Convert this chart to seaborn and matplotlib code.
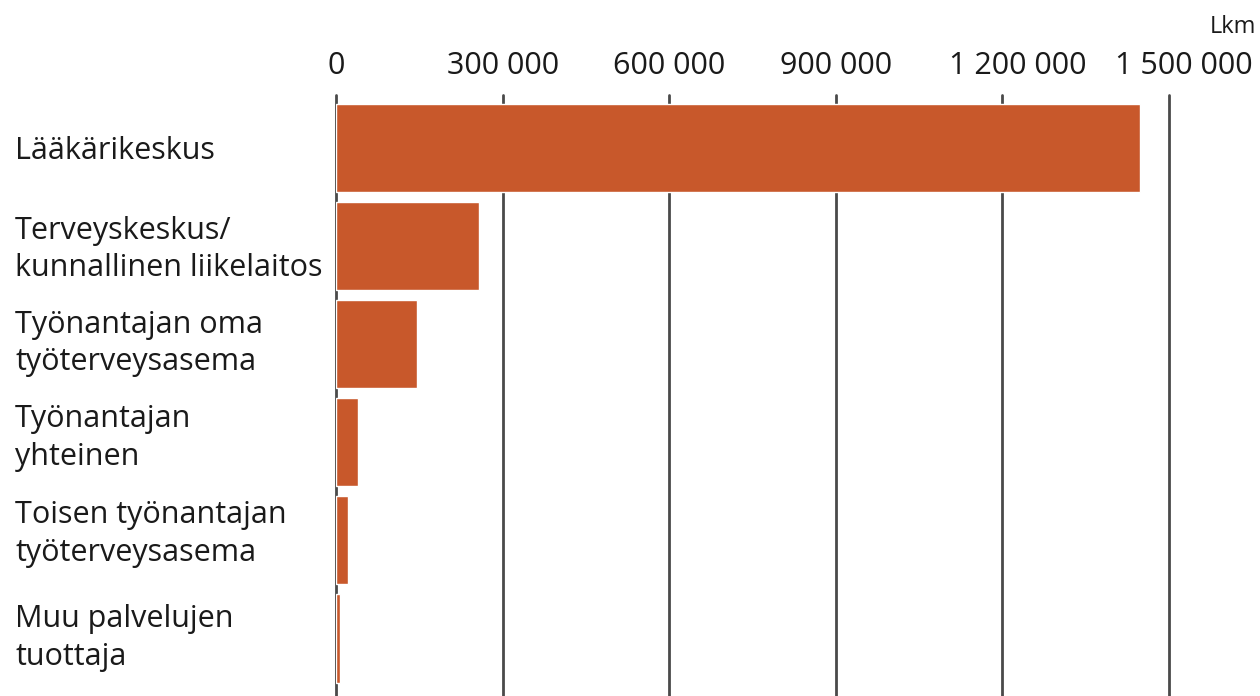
import matplotlib
matplotlib.use("Agg")
import matplotlib.pyplot as plt
import matplotlib.ticker as mticker
import matplotlib.transforms as mtransforms
import seaborn as sns
import pandas as pd

# Service providers and visit counts (lkm)
categories = [
    "Lääkärikeskus",
    "Terveyskeskus/\nkunnallinen liikelaitos",
    "Työnantajan oma\ntyöterveysasema",
    "Työnantajan\nyhteinen",
    "Toisen työnantajan\ntyöterveysasema",
    "Muu palvelujen\ntuottaja",
]
counts = [1447000, 257000, 146000, 39000, 22000, 7000]
x_ticks = [0, 300000, 600000, 900000, 1200000, 1500000]

sns.set_theme(style="white")
plt.rcParams["font.family"] = ["Open Sans", "DejaVu Sans"]

df = pd.DataFrame({"provider": categories, "count": counts})

fig = plt.figure(figsize=(12.6, 6.96), dpi=100)
ax = fig.add_axes([336 / 1260, 0.0, (1169 - 336) / 1260, 1 - 95 / 696])

sns.barplot(data=df, y="provider", x="count", orient="h", color="#C8582B",
            saturation=1, width=0.9, ax=ax, zorder=3)

ax.set_xlim(0, 1500000)
ax.set_ylim(5.587, -0.54)
ax.set_xticks(x_ticks)
ax.xaxis.set_major_formatter(
    mticker.FuncFormatter(lambda v, p: f"{int(v):,}".replace(",", " ")))
ax.xaxis.tick_top()
ax.tick_params(axis="x", length=0, pad=10, labelsize=22, colors="#1a1a1a")
ax.tick_params(axis="y", length=0, pad=231, labelsize=22, colors="#1a1a1a")

# Million labels sit a little to the right of their gridlines
for v, lbl in zip(x_ticks, ax.get_xticklabels()):
    if v >= 1000000:
        lbl.set_transform(lbl.get_transform() + mtransforms.ScaledTranslation(
            15 / 100, 0, fig.dpi_scale_trans))

# Category labels: left-aligned, nudged slightly upward down the list
nudges = [0, 4, 8, 12, 14, 8]
for lbl, dy in zip(ax.get_yticklabels(), nudges):
    lbl.set_horizontalalignment("left")
    lbl.set_linespacing(1.34)
    lbl.set_transform(lbl.get_transform() + mtransforms.ScaledTranslation(
        0, dy / 100, fig.dpi_scale_trans))

for v in x_ticks:
    ax.axvline(v, color="#4a4a4a", lw=2, zorder=1, clip_on=False)

for s in ax.spines.values():
    s.set_visible(False)
ax.set_xlabel("")
ax.set_ylabel("")

fig.text(1256 / 1260, 1 - 27 / 696, "Lkm", ha="right", va="center",
         fontsize=17, color="#1a1a1a")

fig.savefig("out.png", dpi=100)
